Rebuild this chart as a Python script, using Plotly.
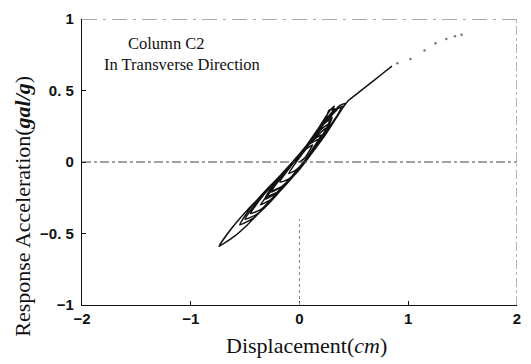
import plotly.graph_objects as go

# hysteresis trace (displacement in cm, acceleration in gal/g)
disp = [
    0.00,
    0.05, 0.12,
    0.06, -0.02, -0.10,
    -0.04, 0.04, 0.12, 0.20,
    0.12, 0.02, -0.08, -0.18,
    -0.10, 0.00, 0.12, 0.22, 0.28,
    0.20, 0.08, -0.05, -0.16, -0.25,
    -0.16, -0.04, 0.10, 0.22, 0.30, 0.35,
    0.30, 0.27, 0.24, 0.15, 0.02, -0.12, -0.24, -0.32,
    -0.22, -0.08, 0.08, 0.22, 0.34, 0.42,
    0.36, 0.24, 0.10, -0.05, -0.20, -0.34, -0.45,
    -0.35, -0.20, -0.02, 0.15, 0.28, 0.38,
    0.30, 0.32, 0.28, 0.16, 0.02, -0.14, -0.30, -0.44, -0.55,
    -0.42, -0.25, -0.08, 0.10, 0.22, 0.30,
    0.20, 0.06, -0.10, -0.28, -0.46, -0.62, -0.74,
    -0.60, -0.48, -0.34, -0.18, -0.02, 0.14, 0.28, 0.40,
    0.30, 0.15, 0.00, -0.16, -0.32, -0.50,
    -0.38, -0.22, -0.06, 0.10, 0.25,
    0.14, 0.00, -0.14, -0.28, -0.36,
    -0.24, -0.10, 0.04, 0.18,
    0.08, -0.06, -0.20, -0.30,
    -0.18, -0.04, 0.10, 0.20,
    0.10, -0.04, -0.18, -0.26,
    -0.16, -0.02, 0.12, 0.26, 0.38, 0.45, 0.55, 0.65, 0.75, 0.85,
]
accel = [
    0.00,
    0.03, 0.12,
    0.09, 0.01, -0.08,
    -0.06, 0.00, 0.09, 0.19,
    0.15, 0.06, -0.03, -0.14,
    -0.12, -0.04, 0.08, 0.18, 0.27,
    0.23, 0.12, 0.00, -0.10, -0.20,
    -0.17, -0.08, 0.05, 0.18, 0.33, 0.37,
    0.37, 0.36, 0.30, 0.20, 0.07, -0.05, -0.16, -0.26,
    -0.22, -0.11, 0.03, 0.17, 0.31, 0.41,
    0.39, 0.28, 0.15, 0.01, -0.12, -0.24, -0.36,
    -0.33, -0.21, -0.07, 0.10, 0.24, 0.38,
    0.36, 0.39, 0.36, 0.22, 0.07, -0.07, -0.19, -0.31, -0.44,
    -0.39, -0.26, -0.12, 0.05, 0.19, 0.31,
    0.25, 0.11, -0.03, -0.18, -0.32, -0.46, -0.59,
    -0.52, -0.44, -0.33, -0.20, -0.06, 0.09, 0.24, 0.39,
    0.35, 0.20, 0.05, -0.08, -0.21, -0.40,
    -0.36, -0.24, -0.09, 0.06, 0.24,
    0.17, 0.04, -0.08, -0.22, -0.30,
    -0.25, -0.13, 0.00, 0.16,
    0.12, -0.01, -0.13, -0.24,
    -0.20, -0.08, 0.06, 0.19,
    0.14, 0.01, -0.12, -0.21,
    -0.17, -0.06, 0.08, 0.23, 0.36, 0.43, 0.49, 0.55, 0.61, 0.67,
]
# faint dotted continuation
disp_tail = [0.90, 1.02, 1.15, 1.25, 1.35, 1.43, 1.49]
accel_tail = [0.69, 0.72, 0.78, 0.83, 0.86, 0.88, 0.89]

x_ticks = [-2, -1, 0, 1, 2]
x_labels = ["\u22122", "\u22121", "0", "1", "2"]
y_ticks = [-1, -0.5, 0, 0.5, 1]
y_labels = ["\u22121", "\u22120. 5", "0", "0. 5", "1"]

fig = go.Figure()
fig.add_trace(go.Scatter(x=disp, y=accel, mode="lines",
                         line=dict(color="#111111", width=1.5, shape="spline", smoothing=0.5),
                         hoverinfo="skip"))
fig.add_trace(go.Scatter(x=disp_tail, y=accel_tail, mode="markers",
                         marker=dict(color="#777777", size=2.5), hoverinfo="skip"))

# frame / reference lines
fig.add_shape(type="line", x0=-2, x1=2, y0=1, y1=1, line=dict(color="#555555", width=1, dash="longdashdot"))
fig.add_shape(type="line", x0=2, x1=2, y0=-1, y1=1, line=dict(color="#666666", width=1, dash="dashdot"))
fig.add_shape(type="line", x0=-2, x1=2, y0=0, y1=0, line=dict(color="#444444", width=1, dash="dashdot"))
fig.add_shape(type="line", x0=0, x1=0, y0=-1, y1=-0.4, line=dict(color="#888888", width=1, dash="dot"))

fig.update_xaxes(range=[-2, 2], tickvals=x_ticks, ticktext=x_labels, showgrid=False, zeroline=False,
                 showline=True, linecolor="#111111", linewidth=1.2, ticks="inside", ticklen=4,
                 tickcolor="#111111", mirror=False,
                 tickfont=dict(family="Liberation Sans", size=15, color="#111111", weight="bold"))
fig.update_yaxes(range=[-1, 1], tickvals=y_ticks, ticktext=y_labels, showgrid=False, zeroline=False,
                 showline=True, linecolor="#111111", linewidth=1.2, ticks="inside", ticklen=4,
                 tickcolor="#111111", ticklabelstandoff=4,
                 tickfont=dict(family="Liberation Sans", size=15, color="#111111", weight="bold"))

serif = "Liberation Serif"
fig.add_annotation(text="Column C2", x=-1.22, y=0.83, xref="x", yref="y", showarrow=False,
                   font=dict(family=serif, size=16.5, color="#111111"))
fig.add_annotation(text="In Transverse Direction", x=-1.085, y=0.68, xref="x", yref="y", showarrow=False,
                   font=dict(family=serif, size=16.5, color="#111111"))
fig.add_annotation(text="Displacement(<i>cm</i>)", x=0.515, y=-0.142, xref="paper", yref="paper",
                   showarrow=False, xanchor="center", yanchor="middle",
                   font=dict(family=serif, size=22, color="#111111"))
fig.add_annotation(text="Response Acceleration(<b><i>gal/g</i></b>)", x=-0.137, y=0.345,
                   xref="paper", yref="paper", showarrow=False, textangle=-90,
                   xanchor="center", yanchor="middle",
                   font=dict(family=serif, size=22, color="#111111"))

fig.update_layout(width=531, height=364, margin=dict(l=82, r=12, t=10, b=59),
                  paper_bgcolor="white", plot_bgcolor="white", showlegend=False)
fig.write_html("out.html")
